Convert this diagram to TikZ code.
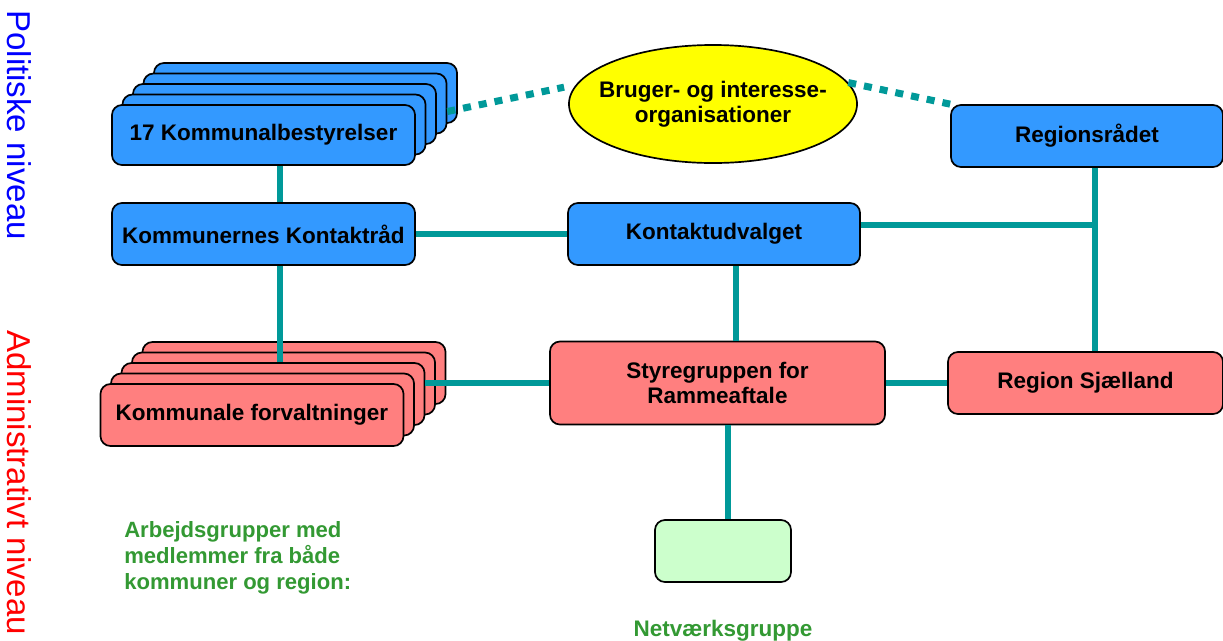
\documentclass[tikz,border=0pt]{standalone}
\usepackage{fontspec}
\setmainfont{Liberation Sans}
\usetikzlibrary{shapes.geometric}
\definecolor{polblue}{HTML}{3399FF}
\definecolor{admred}{HTML}{FF7F7F}
\definecolor{orgyellow}{HTML}{FFFF00}
\definecolor{netgreen}{HTML}{CCFFCC}
\definecolor{linkteal}{HTML}{009999}
\definecolor{textgreen}{HTML}{339933}
\begin{document}
\begin{tikzpicture}[x=0.025cm, y=-0.025cm,
    box/.style={draw, line width=1.2pt, rounded corners=0.25cm, inner sep=0pt, align=center,
                font=\fontsize{16}{18}\selectfont\bfseries},
    pol/.style={box, fill=polblue},
    adm/.style={box, fill=admred},
    link/.style={linkteal, line width=4.2pt},
    dots/.style={linkteal, line width=5pt, dash pattern=on 5.7pt off 5.7pt},
    level/.style={rotate=-90, anchor=west, inner sep=0pt, font=\fontsize{23.5}{26}\selectfont}]
    \useasboundingbox (0,0) rectangle (1223,640);
    \node[level, blue] (PN) at (19, 10) {Politiske niveau};
    \node[level, red] (AN) at (19, 330) {Administrativt niveau};
    \foreach \k in {4,3,2,1}
       \node[pol, minimum width=7.575cm, minimum height=1.5cm] (KB\k) at ({263.5+10.5*\k}, {135-10.5*\k}) {};
    \node[pol, minimum width=7.575cm, minimum height=1.5cm] (KB) at (263.5, 135) {17 Kommunalbestyrelser};
    \node[pol, minimum width=7.575cm, minimum height=1.55cm] (KK) at (263.5, 234) {Kommunernes Kontaktråd};
    \foreach \k in {4,3,2,1}
       \node[adm, minimum width=7.575cm, minimum height=1.55cm] (KF\k) at ({252+10.5*\k}, {415-10.5*\k}) {};
    \node[adm, minimum width=7.575cm, minimum height=1.55cm] (KF) at (252, 415) {Kommunale forvaltninger};
    \node[ellipse, draw, line width=1.2pt, fill=orgyellow, inner sep=0pt, minimum width=7.2cm, minimum height=2.95cm] (BO) at (713, 104) {};
    \node[align=center, inner sep=0pt, font=\fontsize{16}{18}\selectfont\bfseries] (BT) at (BO) {Bruger- og interesse-\\organisationer};
    \node[pol, minimum width=6.8cm, minimum height=1.55cm] (RR) at (1087, 136) {Regionsrådet};
    \node[pol, minimum width=7.3cm, minimum height=1.55cm] (KU) at (714, 234) {Kontaktudvalget};
    \node[adm, minimum width=8.375cm, minimum height=2.075cm] (SR) at (717.5, 383) {Styregruppen for\\Rammeaftale};
    \node[adm, minimum width=6.875cm, minimum height=1.55cm] (RS) at (1085.5, 383) {Region Sjælland};
    \node[box, fill=netgreen, minimum width=3.4cm, minimum height=1.55cm] (NG) at (723, 551) {};
    \node[anchor=base, inner sep=0pt, textgreen, font=\fontsize{16}{18}\selectfont\bfseries] (NT) at (723, 636) {Netværksgruppe};
    \node[anchor=north west, inner sep=0pt, align=left, textgreen, font=\fontsize{15.7}{18.5}\selectfont\bfseries] (AG) at (124, 521)
         {Arbejdsgrupper med\\medlemmer fra både\\kommuner og region:};
    \coordinate (kb) at ([xshift=0.41cm]KB.south);
    \coordinate (kk) at ([xshift=0.41cm]KK.south);
    \coordinate (ke) at ([yshift=0.225cm]KU.east);
    \coordinate (ku) at ([xshift=0.55cm]KU.south);
    \coordinate (rv) at ([xshift=0.2cm]RR.south);
    \coordinate (sr) at ([xshift=0.26cm]SR.south);
    \draw[link] (kb) -- (kb |- KK.north);
    \draw[link] (kk) -- (kk |- KF2.north);
    \draw[link] (KK.east) -- (KU.west);
    \draw[link] (ke) -- (ke -| rv);
    \draw[link] (rv) -- (rv |- RS.north);
    \draw[link] (ku) -- (ku |- SR.north);
    \draw[link] (SR.west) -- (SR.west -| KF2.east);
    \draw[link] (SR.east) -- (RS.west);
    \draw[link] (sr) -- (sr |- NG.north);
    \draw[dots, shorten >=0.3cm] ([yshift=-0.2cm]KB3.east) -- (BO.172);
    \draw[dots] (BO.9) -- (RR.north west);
\end{tikzpicture}
\end{document}
